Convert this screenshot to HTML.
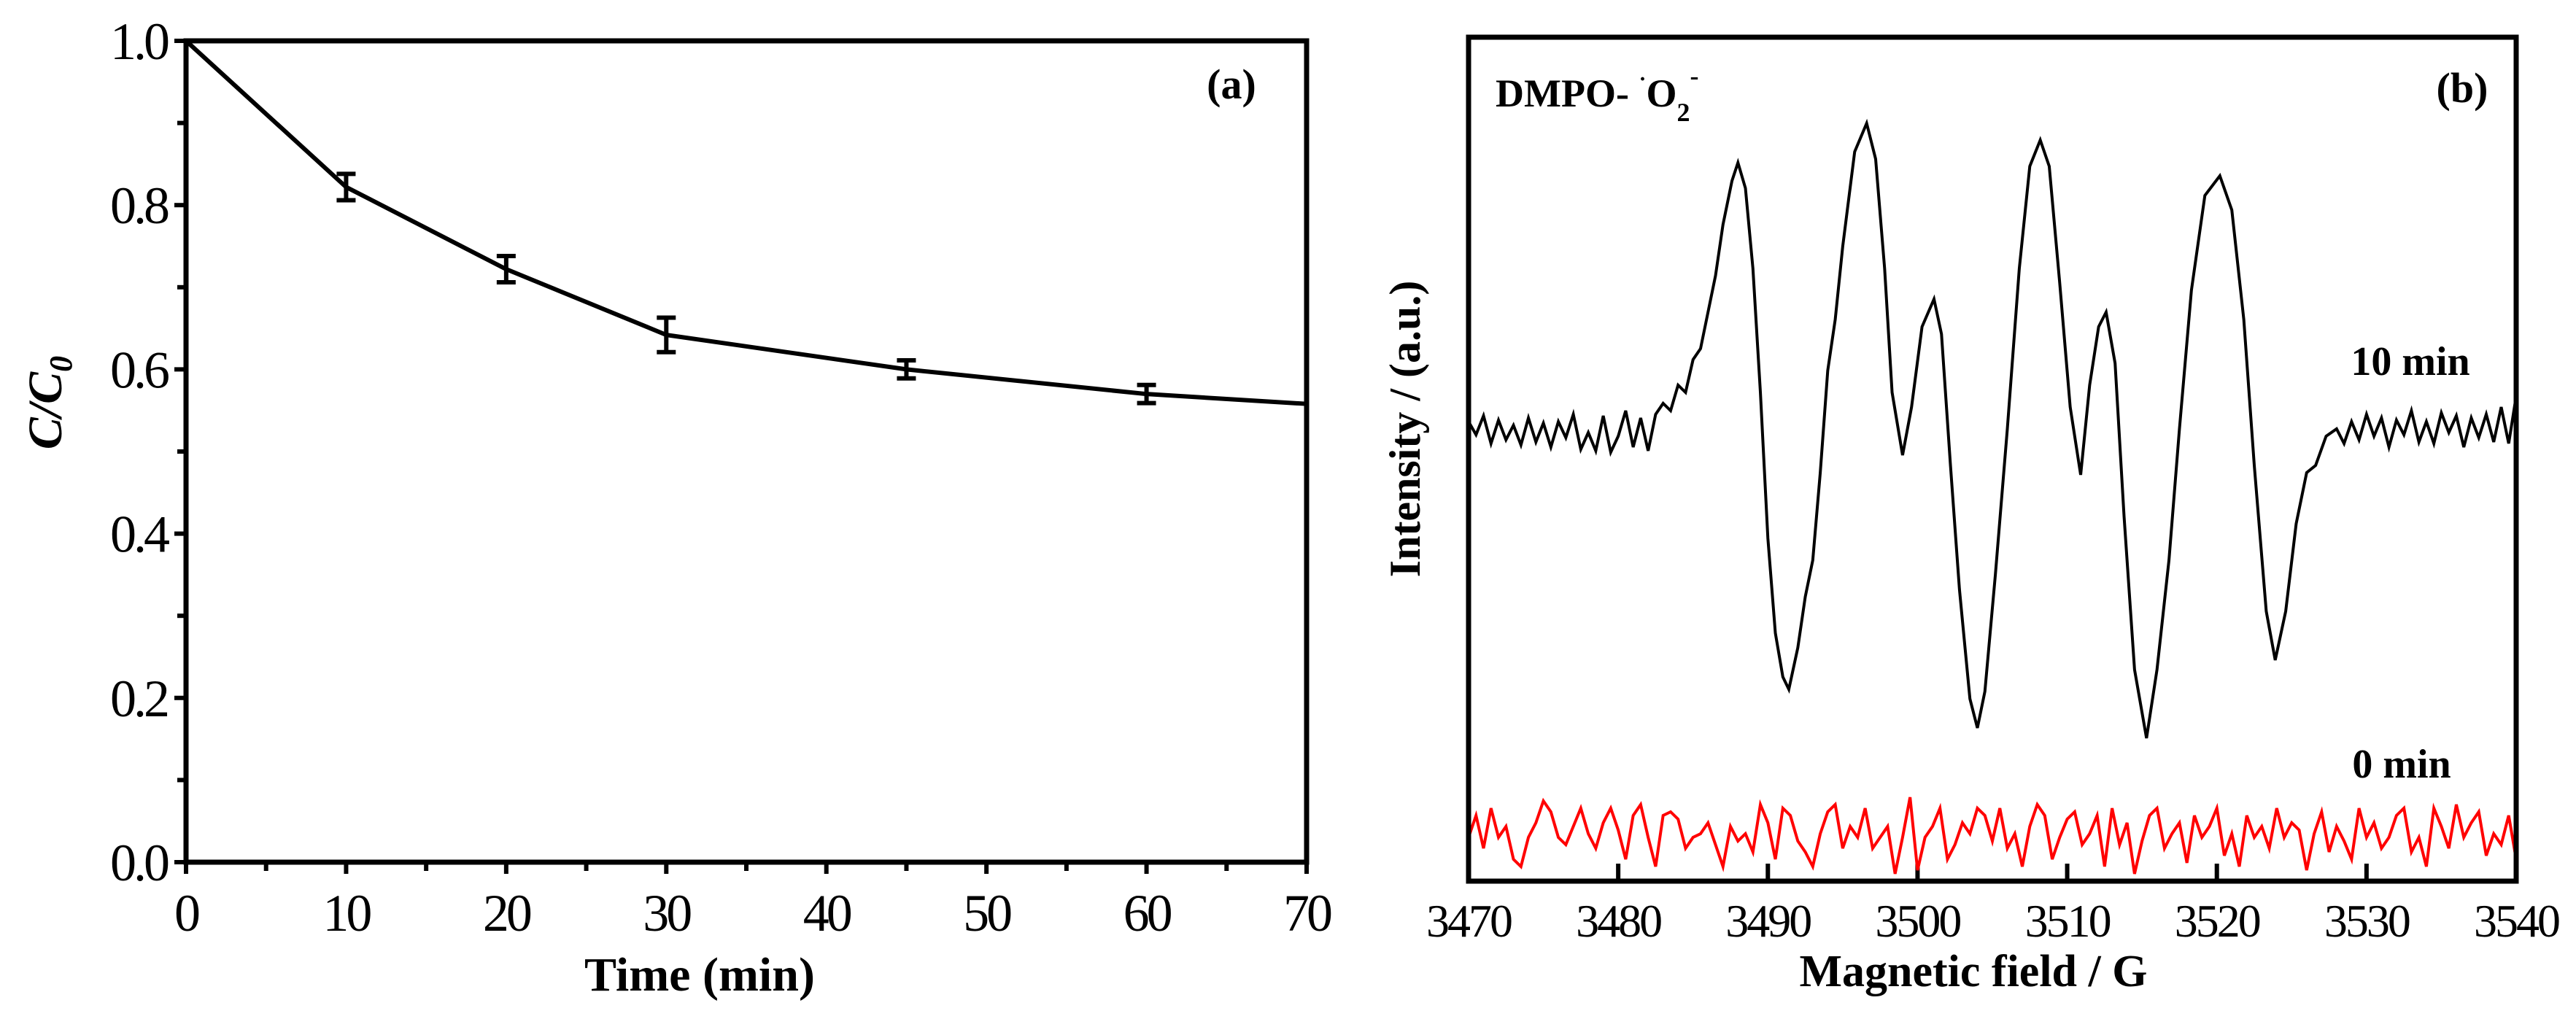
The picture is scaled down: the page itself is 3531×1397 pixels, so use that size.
<!DOCTYPE html>
<html><head><meta charset="utf-8">
<style>
html,body{margin:0;padding:0;background:#fff;}
svg{display:block;}
text{font-family:"Liberation Serif",serif;fill:#000;}
</style></head>
<body>
<svg id="fig" width="3531" height="1397" viewBox="0 0 3531 1397" xmlns="http://www.w3.org/2000/svg">
<g id="pa"></g>
<g id="pb"></g>
</svg>
<script>
// ---- Panel (a) data ----
const timeMin = [0, 10, 20, 30, 45, 60, 70];
const ratioC = [1.0, 0.822, 0.722, 0.642, 0.600, 0.570, 0.558];
const ratioErr = [0, 0.016, 0.016, 0.021, 0.011, 0.011, 0];
const aXTicks = [0, 10, 20, 30, 40, 50, 60, 70];
const aYTicks = [0.0, 0.2, 0.4, 0.6, 0.8, 1.0];

// ---- Panel (b) data ----
const fieldTicks = [3470, 3480, 3490, 3500, 3510, 3520, 3530, 3540];
const spec10Field = [3470,3470.5,3471,3471.5,3472,3472.5,3473,3473.5,3474,3474.5,3475,3475.5,3476,3476.5,3477,3477.5,3478,3478.5,3479,3479.5,3480,3480.5,3481,3481.5,3482,3482.5,3483,3483.5,3484,3484.5,3485,3485.5,3486,3486.5,3487,3487.6,3488,3488.5,3489,3489.5,3490,3490.5,3491,3491.4,3492,3492.5,3493,3493.5,3494,3494.5,3495,3495.8,3496.6,3497.2,3497.8,3498.3,3499,3499.6,3500.3,3501.1,3501.6,3502.2,3502.8,3503.5,3504,3504.5,3505.2,3506,3506.8,3507.5,3508.2,3508.8,3509.5,3510.2,3510.9,3511.5,3512.1,3512.6,3513.2,3513.8,3514.5,3515.3,3516,3516.8,3517.5,3518.3,3519.2,3520.2,3521,3521.8,3522.5,3523.3,3523.9,3524.6,3525.3,3526,3526.6,3527.3,3528,3528.5,3529,3529.5,3530,3530.5,3531,3531.5,3532,3532.5,3533,3533.5,3534,3534.5,3535,3535.5,3536,3536.5,3537,3537.5,3538,3538.5,3539,3539.5,3540];
const spec10Val = [10,-8,18,-20,12,-15,5,-22,15,-18,8,-25,10,-12,20,-28,-5,-30,18,-32,-10,25,-25,15,-30,20,35,25,60,50,95,110,160,210,280,340,365,330,220,50,-150,-280,-340,-357,-300,-230,-180,-60,80,150,250,380,419,370,220,50,-36,30,140,178,130,-50,-220,-370,-410,-360,-200,0,220,360,396,360,200,30,-63,60,140,160,90,-120,-330,-424,-330,-180,0,190,320,347,300,150,-50,-250,-317,-250,-130,-60,-50,-10,0,-20,10,-15,20,-10,15,-25,12,-8,25,-18,10,-20,22,-5,18,-25,15,-12,20,-18,30,-20,45];
const spec0Val = [-560,-530,-575,-520,-560,-545,-590,-600,-560,-540,-510,-525,-560,-570,-545,-520,-555,-575,-540,-520,-550,-590,-530,-515,-560,-600,-530,-525,-535,-575,-560,-555,-540,-570,-600,-545,-565,-555,-580,-515,-540,-590,-520,-530,-565,-580,-600,-555,-525,-515,-575,-545,-560,-520,-575,-560,-545,-610,-560,-505,-605,-560,-545,-520,-590,-570,-540,-555,-520,-530,-565,-520,-575,-555,-600,-545,-515,-530,-590,-560,-535,-525,-570,-555,-530,-600,-520,-570,-540,-610,-565,-530,-520,-575,-555,-540,-595,-530,-560,-545,-520,-585,-555,-600,-530,-560,-545,-575,-520,-560,-540,-550,-605,-555,-525,-580,-545,-565,-590,-520,-560,-540,-575,-560,-530,-520,-580,-560,-600,-520,-545,-575,-515,-560,-540,-525,-585,-555,-570,-530,-590];

const NS = "http://www.w3.org/2000/svg";
function mk(parent, tag, attrs, txt){
  const e = document.createElementNS(NS, tag);
  for (const k in attrs) e.setAttribute(k, attrs[k]);
  if (txt !== undefined) e.textContent = txt;
  parent.appendChild(e);
  return e;
}

// ===== Panel (a) =====
const pa = document.getElementById('pa');
const aL = 255, aR = 1791, aT = 56, aB = 1182;
const ax = t => aL + (t - 0) / 70 * (aR - aL);
const ay = v => aB - v / 1.0 * (aB - aT);

for (let t = 5; t < 70; t += 10) {
  const m = mk(pa, 'line', {x1: ax(t), x2: ax(t), y1: aB, y2: aB + 12, stroke: '#000', 'stroke-width': 6});
  
  
}
for (let v = 0.1; v < 1.0; v += 0.2) {
  const m = mk(pa, 'line', {x1: aL - 12, x2: aL, y1: ay(v), y2: ay(v), stroke: '#000', 'stroke-width': 6});
  
  
}
aXTicks.forEach(t => {
  const l = mk(pa, 'line', {x1: ax(t), x2: ax(t), y1: aB, y2: aB + 16, stroke: '#000', 'stroke-width': 6});
  
  
  const tx = mk(pa, 'text', {x: ax(t), y: aB + 94, 'font-size': 72, 'letter-spacing': -4, 'text-anchor': 'middle'}, String(t));
  
  
});
aYTicks.forEach(v => {
  const l = mk(pa, 'line', {x1: aL - 16, x2: aL, y1: ay(v), y2: ay(v), stroke: '#000', 'stroke-width': 6});
  
  
  const tx = mk(pa, 'text', {x: aL - 26, y: ay(v) + 25, 'font-size': 72, 'letter-spacing': -4, 'text-anchor': 'end'}, v.toFixed(1));
  
  
});
const fa = mk(pa, 'rect', {x: aL, y: aT, width: aR - aL, height: aB - aT, fill: 'none', stroke: '#000', 'stroke-width': 7});



const la = mk(pa, 'polyline', {points: timeMin.map((t, i) => ax(t) + ',' + ay(ratioC[i])).join(' '), fill: 'none', stroke: '#000', 'stroke-width': 6, 'stroke-linejoin': 'round'});


timeMin.forEach((t, i) => {
  if (ratioErr[i] <= 0) return;
  const g = mk(pa, 'g', {stroke: '#000', 'stroke-width': 6});
  
  
  const x = ax(t), y1 = ay(ratioC[i] + ratioErr[i]), y2 = ay(ratioC[i] - ratioErr[i]);
  mk(g, 'line', {x1: x, x2: x, y1: y1, y2: y2});
  mk(g, 'line', {x1: x - 13, x2: x + 13, y1: y1, y2: y1});
  mk(g, 'line', {x1: x - 13, x2: x + 13, y1: y2, y2: y2});
});
const ta = mk(pa, 'text', {x: 1688, y: 135, 'font-size': 58, 'font-weight': 'bold', 'text-anchor': 'middle'}, '(a)');


const xta = mk(pa, 'text', {x: 959, y: 1358, 'font-size': 66, 'font-weight': 'bold', 'text-anchor': 'middle'}, 'Time (min)');


const yta = mk(pa, 'text', {transform: 'translate(84,552) rotate(-90)', 'font-size': 66, 'font-weight': 'bold', 'font-style': 'italic', 'text-anchor': 'middle'});


mk(yta, 'tspan', {}, 'C/C');
mk(yta, 'tspan', {dy: 14, 'font-size': 44}, '0');

// ===== Panel (b) =====
const pb = document.getElementById('pb');
const bL = 2013, bR = 3449, bT = 51, bB = 1208;
const bx = f => bL + (f - 3470) / 70 * (bR - bL);
const by = v => 588 - v * 1.0;

fieldTicks.forEach(f => {
  const l = mk(pb, 'line', {x1: bx(f), x2: bx(f), y1: bB, y2: bB - 24, stroke: '#000', 'stroke-width': 6});
  
  
  const tx = mk(pb, 'text', {x: bx(f), y: bB + 76, 'font-size': 64, 'letter-spacing': -3, 'text-anchor': 'middle'}, String(f));
  
  
});
const red = mk(pb, 'polyline', {points: spec0Val.map((v, i) => bx(3470 + i * 0.5) + ',' + by(v)).join(' '), fill: 'none', stroke: '#ff0000', 'stroke-width': 4});


const blk = mk(pb, 'polyline', {points: spec10Field.map((f, i) => bx(f) + ',' + by(spec10Val[i])).join(' '), fill: 'none', stroke: '#000', 'stroke-width': 4});


const fb = mk(pb, 'rect', {x: bL, y: bT, width: bR - bL, height: bB - bT, fill: 'none', stroke: '#000', 'stroke-width': 7});



const dm = mk(pb, 'text', {x: 2050, y: 146, 'font-size': 54, 'font-weight': 'bold'});


mk(dm, 'tspan', {}, 'DMPO- ');
mk(dm, 'tspan', {'font-size': 30, dy: -28}, '·');
mk(dm, 'tspan', {dy: 28}, 'O');
mk(dm, 'tspan', {'font-size': 36, dy: 20}, '2');
mk(dm, 'tspan', {'font-size': 36, dy: -50}, '-');
const tb = mk(pb, 'text', {x: 3375, y: 140, 'font-size': 58, 'font-weight': 'bold', 'text-anchor': 'middle'}, '(b)');


const l10 = mk(pb, 'text', {x: 3304, y: 514, 'font-size': 56, 'font-weight': 'bold', 'text-anchor': 'middle'}, '10 min');


const l0 = mk(pb, 'text', {x: 3292, y: 1066, 'font-size': 56, 'font-weight': 'bold', 'text-anchor': 'middle'}, '0 min');


const xtb = mk(pb, 'text', {x: 2705, y: 1352, 'font-size': 62, 'font-weight': 'bold', 'text-anchor': 'middle'}, 'Magnetic field / G');


const ytb = mk(pb, 'text', {transform: 'translate(1946,588) rotate(-90)', 'font-size': 60, 'font-weight': 'bold', 'text-anchor': 'middle'}, 'Intensity / (a.u.)');


</script>
</body></html>
